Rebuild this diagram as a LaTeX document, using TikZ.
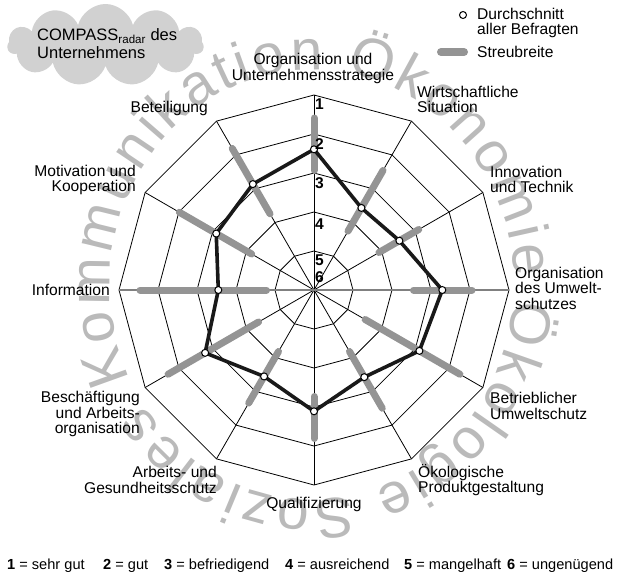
\documentclass[tikz,border=0pt]{standalone}
\usepackage{fontspec}
\setmainfont{Liberation Sans}
\usetikzlibrary{decorations.text,shapes.symbols}

\begin{document}
\begin{tikzpicture}[x=1pt,y=1pt]
            \tikzset{lbl/.style = {font=\fontsize{15.6}{15.5}\selectfont, inner sep=0pt}}
            \tikzset{num/.style = {font=\fontsize{15.6}{15.6}\selectfont\bfseries, inner sep=0pt, anchor=west}}
            \tikzset{grade/.style = {font=\fontsize{14.6}{14.6}\selectfont, inner sep=0pt, anchor=base west}}
            \tikzset{grid/.style = {draw=black, line width=0.8pt}}
            \tikzset{spread/.style = {draw=black!42, line width=7pt, line cap=round}}
            \tikzset{profile/.style = {draw=black!90, line width=3.6pt, line join=round}}
            \tikzset{avg/.style = {shape=circle, draw=black, fill=white, line width=1pt, inner sep=0pt, minimum size=7pt}}
            \useasboundingbox (-314,-284) rectangle (309,290);
            % watermark
            \path[decorate, decoration={text along path, text align=fit to path, text color=black!27,
              text={|\fontsize{57}{57}\selectfont|Kommunikation Ökonomie Ökologie Soziales}}]
              (-2,5) ++(206:202 and 215) arc[start angle=206, end angle=-146, x radius=202, y radius=215];
            % title cloud
            \node[cloud, cloud puffs=11, aspect=2.5, fill=black!18, minimum width=196pt, minimum height=82pt] (cloud) at (-208.5,245) {};
            \node[lbl, font=\fontsize{16.5}{18}\selectfont, align=left, anchor=west] (title) at (-277,246) {COMPASS\textsubscript{radar} des\\Unternehmens};
            % rings
            \draw[grid] (0:195) -- (30:195) -- (60:195) -- (90:195) -- (120:195) -- (150:195) -- (180:195) -- (210:195) -- (240:195) -- (270:195) -- (300:195) -- (330:195) -- cycle;
            \draw[grid] (0:156) -- (30:156) -- (60:156) -- (90:156) -- (120:156) -- (150:156) -- (180:156) -- (210:156) -- (240:156) -- (270:156) -- (300:156) -- (330:156) -- cycle;
            \draw[grid] (0:117) -- (30:117) -- (60:117) -- (90:117) -- (120:117) -- (150:117) -- (180:117) -- (210:117) -- (240:117) -- (270:117) -- (300:117) -- (330:117) -- cycle;
            \draw[grid] (0:78) -- (30:78) -- (60:78) -- (90:78) -- (120:78) -- (150:78) -- (180:78) -- (210:78) -- (240:78) -- (270:78) -- (300:78) -- (330:78) -- cycle;
            \draw[grid] (0:39) -- (30:39) -- (60:39) -- (90:39) -- (120:39) -- (150:39) -- (180:39) -- (210:39) -- (240:39) -- (270:39) -- (300:39) -- (330:39) -- cycle;
            % spokes
            \draw[grid] (30:195) -- (210:195);
            \draw[grid] (60:195) -- (240:195);
            \draw[grid] (90:195) -- (270:195);
            \draw[grid] (120:195) -- (300:195);
            \draw[grid] (150:195) -- (330:195);
            \draw[grid, draw=black!50, line width=1.1pt] (0:195) -- (180:195);
            % spread
            \draw[spread] (90:172) -- (90:119.5);
            \draw[spread] (60:138) -- (60:68);
            \draw[spread] (30:121) -- (30:75);
            \draw[spread] (0:158) -- (0:99.5);
            \draw[spread] (-30:168.5) -- (-30:59);
            \draw[spread] (-60:136.5) -- (-60:71);
            \draw[spread] (-90:148.5) -- (-90:106.5);
            \draw[spread] (-120:130.5) -- (-120:71);
            \draw[spread] (-150:168.5) -- (-150:64);
            \draw[spread] (180:174) -- (180:47.5);
            \draw[spread] (150:155.5) -- (150:72);
            \draw[spread] (120:163.5) -- (120:88);
            % average profile
            \coordinate (a1) at (90:140.7);
            \coordinate (a2) at (60:94.8);
            \coordinate (a3) at (30:98.6);
            \coordinate (a4) at (0:128.3);
            \coordinate (a5) at (-30:121.7);
            \coordinate (a6) at (-60:100.6);
            \coordinate (a7) at (-90:121.3);
            \coordinate (a8) at (-120:99.8);
            \coordinate (a9) at (-150:125.7);
            \coordinate (a10) at (180:95.7);
            \coordinate (a11) at (150:112.9);
            \coordinate (a12) at (120:122.3);
            \draw[profile] (a1) -- (a2) -- (a3) -- (a4) -- (a5) -- (a6) -- (a7) -- (a8) -- (a9) -- (a10) -- (a11) -- (a12) -- cycle;
            \node[avg] (m1) at (a1) {};
            \node[avg] (m2) at (a2) {};
            \node[avg] (m3) at (a3) {};
            \node[avg] (m4) at (a4) {};
            \node[avg] (m5) at (a5) {};
            \node[avg] (m6) at (a6) {};
            \node[avg] (m7) at (a7) {};
            \node[avg] (m8) at (a8) {};
            \node[avg] (m9) at (a9) {};
            \node[avg] (m10) at (a10) {};
            \node[avg] (m11) at (a11) {};
            \node[avg] (m12) at (a12) {};
            % scale numbers
            \node[num] (n1) at (1,186) {1};
            \node[num] (n2) at (1,146) {2};
            \node[num] (n3) at (1,107) {3};
            \node[num] (n4) at (1,66) {4};
            \node[num] (n5) at (1,30) {5};
            \node[num] (n6) at (1,12.5) {6};
            % axis labels
            \node[lbl, align=center] (l1) at (-1,221.5) {Organisation und\\Unternehmensstrategie};
            \node[lbl, align=left, anchor=west] (l2) at (103,190.5) {Wirtschaftliche\\Situation};
            \node[lbl, align=left, anchor=west] (l3) at (176,110.5) {Innovation\\und Technik};
            \node[lbl, align=left, anchor=west] (l4) at (201,2) {Organisation\\des Umwelt-\\schutzes};
            \node[lbl, align=left, anchor=west] (l5) at (176,-116) {Betrieblicher\\Umweltschutz};
            \node[lbl, align=left, anchor=west] (l6) at (104,-190) {Ökologische\\Produktgestaltung};
            \node[lbl] (l7) at (0,-214) {Qualifizierung};
            \node[lbl, align=right, anchor=east] (l8) at (-97,-190) {Arbeits- und\\Gesundheitsschutz};
            \node[lbl, align=right, anchor=east] (l9) at (-174,-124) {Beschäftigung\\und Arbeits-\\organisation};
            \node[lbl, anchor=east] (l10) at (-204,0) {Information};
            \node[lbl, align=right, anchor=east] (l11) at (-178,110) {Motivation und\\Kooperation};
            \node[lbl, anchor=east] (l12) at (-106,182) {Beteiligung};
            % legend
            \node[avg] (kmean) at (149,275) {};
            \node[lbl, align=left, anchor=west] (tmean) at (163,267) {Durchschnitt\\aller Befragten};
            \coordinate (s1) at (127,238);
            \coordinate (s2) at (150,238);
            \draw[spread, line width=8pt] (s1) -- (s2);
            \node[lbl, anchor=west] (tspread) at (163,238) {Streubreite};
            % grades
            \node[grade] (g1) at (-307,-279) {\textbf{1} = sehr gut};
            \node[grade] (g2) at (-211,-279) {\textbf{2} = gut};
            \node[grade] (g3) at (-150,-279) {\textbf{3} = befriedigend};
            \node[grade] (g4) at (-29,-279) {\textbf{4} = ausreichend};
            \node[grade] (g5) at (90,-279) {\textbf{5} = mangelhaft};
            \node[grade] (g6) at (193,-279) {\textbf{6} = ungenügend};
        \end{tikzpicture}
\end{document}
